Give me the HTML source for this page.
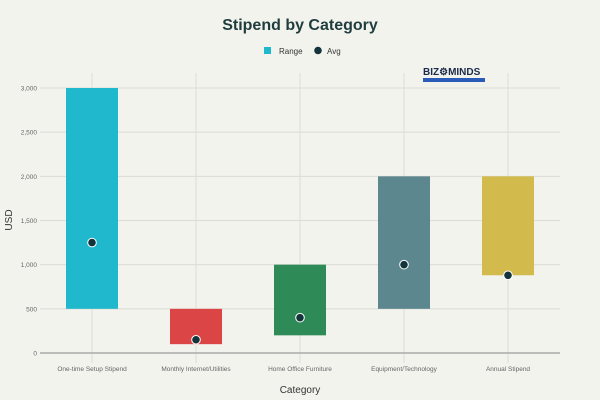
<!DOCTYPE html>
<html><head><meta charset="utf-8"><style>
body{margin:0;background:#f3f3ee;font-family:"Liberation Sans",sans-serif}
svg{display:block}
</style></head><body>
<svg id="c" width="600" height="400">
<rect width="600" height="400" fill="#f3f3ee"/>
<text x="300" y="30" text-anchor="middle" font-size="16" font-weight="bold" fill="#1f3d3d">Stipend by Category</text>
<g>
<rect x="264" y="47" width="7" height="7" fill="#1fb8cd"/>
<text x="279" y="54" font-size="8" fill="#333">Range</text>
<circle cx="318" cy="50.5" r="3.8" fill="#13343b"/>
<text x="327" y="54" font-size="8" fill="#333">Avg</text>
</g>
<g>
<text x="423" y="75" font-size="10" font-weight="bold" fill="#1a2a4a">BIZ⚙MINDS</text>
<rect x="423" y="78" width="62" height="4" fill="#2a5bb8"/>
</g>
<g id="grid"></g><g id="bars"></g>
<text transform="translate(12,220) rotate(-90)" text-anchor="middle" font-size="10" fill="#333">USD</text>
<text x="300" y="393" text-anchor="middle" font-size="10" fill="#333">Category</text>
</svg>
<script>
const categories=["One-time Setup Stipend","Monthly Internet/Utilities","Home Office Furniture","Equipment/Technology","Annual Stipend"];
const lowValues=[500,100,200,500,880];
const highValues=[3000,500,1000,2000,2000];
const avgValues=[1250,150,400,1000,880];
const yTicks=[0,500,1000,1500,2000,2500,3000];
const yTickLabels=["0","500","1,000","1,500","2,000","2,500","3,000"];
const colors=["#1fb8cd","#db4545","#2e8b57","#5d878f","#d2ba4c"];
const NS="http://www.w3.org/2000/svg";
const x0=40,x1=560,y0=353,y1=88,ymax=3000;
const band=(x1-x0)/categories.length;
const y=v=>y0-(v/ymax)*(y0-y1);
const xc=i=>x0+band*(i+0.5);
function mk(t,a,p){const e=document.createElementNS(NS,t);for(const k in a)e.setAttribute(k,a[k]);p.appendChild(e);return e;}
const g=document.getElementById('grid'),b=document.getElementById('bars');
yTicks.forEach((v,i)=>{
 if(v>0){const l=mk('line',{x1:x0,x2:x1,y1:y(v),y2:y(v),stroke:'#dcdcd6','stroke-width':1},g);
 
 }
 const t=mk('text',{x:x0-3,y:y(v)+2.5,'text-anchor':'end','font-size':6.5,fill:'#666'},g);
 t.textContent=yTickLabels[i];
 
 
});
categories.forEach((c,i)=>{
 const l=mk('line',{x1:xc(i),x2:xc(i),y1:y1-15,y2:y0+10,stroke:'#dcdcd6','stroke-width':1},g);
 
 
 const t=mk('text',{x:xc(i),y:y0+18,'text-anchor':'middle','font-size':6.5,fill:'#666'},g);
 t.textContent=c;
 
 
});
const ax=mk('line',{x1:x0,x2:x1,y1:y0,y2:y0,stroke:'#aaa','stroke-width':1.5},g);


categories.forEach((c,i)=>{
 const w=band*0.5;
 const r=mk('rect',{x:xc(i)-w/2,y:y(highValues[i]),width:w,height:y(lowValues[i])-y(highValues[i]),fill:colors[i]},b);
 
 
 const d=mk('circle',{cx:xc(i),cy:y(avgValues[i]),r:4.3,fill:'#13343b',stroke:'#fff','stroke-width':1},b);
 
 
});
</script>
</body></html>
